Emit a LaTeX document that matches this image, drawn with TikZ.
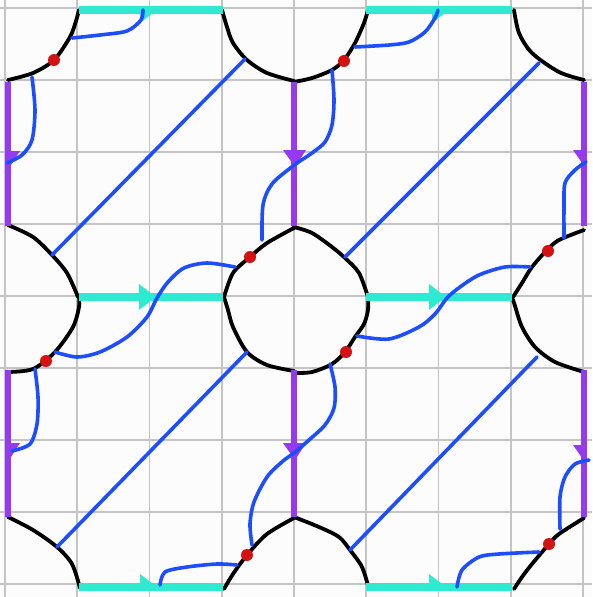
\documentclass[tikz,border=0pt]{standalone}
\definecolor{bgc}{RGB}{252,252,252}
\definecolor{gridc}{RGB}{196,196,196}
\definecolor{cyanc}{RGB}{46,234,208}
\definecolor{purc}{RGB}{150,58,240}
\definecolor{bluec}{RGB}{28,78,255}
\definecolor{redc}{RGB}{212,18,18}
\tikzset{
  gridline/.style={gridc, line width=1.6pt},
  outline/.style={black, line width=3.8pt, line cap=round, line join=round},
  hedge/.style={cyanc, line width=8pt},
  vedge/.style={purc, line width=6.5pt},
  hhead/.style={fill=cyanc},
  vhead/.style={fill=purc},
  strand/.style={bluec, line width=3.6pt, line cap=round, line join=round},
  spot/.style={fill=redc},
}
\begin{document}
\begin{tikzpicture}[x=1pt,y=-1pt]
\useasboundingbox (0,0) rectangle (592,597);
\fill[bgc] (0,0) rectangle (592,597);
\clip (0,0) rectangle (592,597);
% grid
\foreach \i in {0,...,8} \draw[gridline] ({5+72.25*\i},0) -- ({5+72.25*\i},597);
\foreach \j in {0,...,8} \draw[gridline] (0,{8+72*\j}) -- (592,{8+72*\j});
% black arcs (hand-drawn corner curves)
\draw[outline] plot[smooth] coordinates {(79,10) (76,21) (70,37) (54,60) (33,73) (8,80)};
\draw[outline] plot[smooth] coordinates {(222,10) (227,27) (233,43) (247,60) (267,73) (294,81)};
\draw[outline] plot[smooth] coordinates {(368,10) (364,23) (355,43) (344,60) (332,70) (312,78) (294,82)};
\draw[outline] plot[smooth] coordinates {(514,10) (519,33) (532,53) (559,72) (584,80)};
\draw[outline] plot[smooth] coordinates {(8,225) (33,237) (52,255) (67,273) (78,297)};
\draw[outline] plot[smooth] coordinates {(224,297) (233,273) (250,257) (267,243) (294,228)};
\draw[outline] plot[smooth] coordinates {(294,227) (312,233) (332,247) (345,258) (359,273) (368,297)};
\draw[outline] plot[smooth] coordinates {(584,230) (559,240) (547,250) (532,267) (522,283) (513,297)};
\draw[outline] plot[smooth] coordinates {(79,297) (79,307) (73,327) (55,352) (33,369) (8,372)};
\draw[outline] plot[smooth] coordinates {(224,297) (228,310) (233,327) (247,352) (267,365) (294,371)};
\draw[outline] plot[smooth] coordinates {(368,297) (368,310) (364,324) (355,337) (345,352) (332,364) (312,372) (294,373)};
\draw[outline] plot[smooth] coordinates {(512,297) (515,306) (522,327) (535,347) (555,362) (584,372)};
\draw[outline] plot[smooth] coordinates {(8,517) (33,530) (57,547) (72,564) (80,588)};
\draw[outline] plot[smooth] coordinates {(294,518) (267,534) (247,555) (233,574) (224,589)};
\draw[outline] plot[smooth] coordinates {(294,517) (319,527) (339,537) (350,550) (362,567) (369,589)};
\draw[outline] plot[smooth] coordinates {(584,518) (559,534) (549,544) (532,564) (522,577) (514,589)};
% cyan horizontal edges
\foreach \y in {10,297,587} {
  \draw[hedge] (79,\y) -- (223,\y);
  \draw[hedge] (366,\y) -- (512,\y);
}
% purple vertical edges
\foreach \x in {8,294,584} {
  \draw[vedge] (\x,82) -- (\x,226);
  \draw[vedge] (\x,370) -- (\x,517);
}
% arrow heads
\begin{scope}
  \clip (8,10) rectangle (584,587);
  \foreach \ax/\ay in {143/10,435/10,142/297,432/297,143/587,432/587}
    \fill[hhead] (\ax-3,\ay-13) -- (\ax+14,\ay) -- (\ax-3,\ay+13) -- cycle;
  \foreach \ax/\ay in {8/158,294/157,584/157,8/450,294/450,584/452}
    \fill[vhead] (\ax-11,\ay-7) -- (\ax+12,\ay-7) -- (\ax+1,\ay+10) -- cycle;
\end{scope}
% blue strands
\draw[strand] (52,255) -- (245,59);
\draw[strand] (345,257) -- (539,63);
\draw[strand] (57,547) -- (247,352);
\draw[strand] (350,550) -- (537,357);
\draw[strand] plot[smooth] coordinates {(143,10) (141,20) (127,31) (100,35) (72,38)};
\draw[strand] plot[smooth] coordinates {(32,77) (35,110) (32,140) (22,155) (7,163)};
\draw[strand] plot[smooth] coordinates {(262,240) (263,205) (272,184) (293,166) (312,153) (325,142) (332,125) (334,100) (332,70)};
\draw[strand] plot[smooth] coordinates {(235,267) (207,263) (184,268) (168,282) (157,298) (147,317) (127,337) (100,352) (77,357) (55,352)};
\draw[strand] plot[smooth] coordinates {(438,10) (435,18) (425,32) (409,42) (389,45) (355,47)};
\draw[strand] plot[smooth] coordinates {(586,162) (575,170) (565,183) (564,207) (564,238)};
\draw[strand] plot[smooth] coordinates {(530,267) (505,267) (479,275) (460,287) (447,298) (435,314) (419,327) (389,339) (357,336)};
\draw[strand] plot[smooth] coordinates {(35,369) (38,397) (37,424) (30,444) (12,451)};
\draw[strand] plot[smooth] coordinates {(252,545) (250,524) (254,502) (267,477) (283,461) (294,453) (309,440) (325,425) (334,408) (335,387) (330,364)};
\draw[strand] plot[smooth] coordinates {(160,585) (165,572) (187,567) (217,564) (237,565)};
\draw[strand] plot[smooth] coordinates {(589,460) (575,464) (565,477) (560,497) (560,529)};
\draw[strand] plot[smooth] coordinates {(457,587) (462,570) (479,557) (499,554) (539,552)};
% red dots
\foreach \px/\py in {54/60,250/257,344/61,548/251,46/361,247/555,346/352,549/544}
  \fill[spot] (\px,\py) circle[radius=6pt];
\end{tikzpicture}
\end{document}
